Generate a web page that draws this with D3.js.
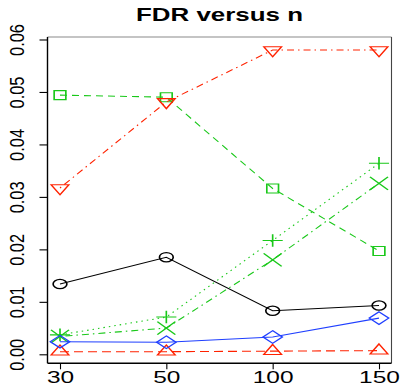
<!DOCTYPE html>
<html>
<head>
<meta charset="utf-8">
<script src="https://cdn.jsdelivr.net/npm/d3@7"></script>
<style>
  body { margin: 0; background: #fff; }
  svg { display: block; font-family: "Liberation Sans", Arial, Helvetica, sans-serif; }
</style>
</head>
<body>
<svg id="chart" width="401" height="386"></svg>
<script>
// sample sizes (categorical x axis)
var nLabels = ["30", "50", "100", "150"];
var yTicks = [0, 0.01, 0.02, 0.03, 0.04, 0.05, 0.06];

// FDR per method
var fdrCircle = [0.0134, 0.0185, 0.0083, 0.0093];
var fdrDiamond = [0.0024, 0.0023, 0.0033, 0.0069];
var fdrTriUp = [0.0005, 0.0005, 0.0006, 0.0007];
var fdrTriDown = [0.0317, 0.0481, 0.0580, 0.0580];
var fdrSquare = [0.0494, 0.0490, 0.0316, 0.0197];
var fdrPlus = [0.0037, 0.0071, 0.0217, 0.0364];
var fdrCross = [0.0034, 0.0050, 0.0180, 0.0326];

var series = [
  { values: fdrSquare, color: "#19c819", dash: "7,5", shape: "square" },
  { values: fdrPlus, color: "#19c819", dash: "1.5,4", shape: "plus" },
  { values: fdrCross, color: "#19c819", dash: "1.5,4,7,4", shape: "cross" },
  { values: fdrTriDown, color: "#ff2200", dash: "1.5,4,7,4", shape: "triDown" },
  { values: fdrTriUp, color: "#ff2200", dash: "9,5", shape: "triUp" },
  { values: fdrCircle, color: "#000000", dash: null, shape: "circle" },
  { values: fdrDiamond, color: "#1f3fff", dash: null, shape: "diamond" }
];

// the original picture is stretched sideways, so glyphs and markers are too
var stretch = 1.5;

var box = { left: 47.5, right: 391.5, top: 37, bottom: 363.3 };

var svg = d3.select("#chart");

let xScale = d3.scalePoint()
  .domain(nLabels)
  .range([60, 379]);

let yScale = d3.scaleLinear()
  .domain([-0.001715, 0.060476])
  .range([box.bottom, box.top]);

// marker outlines in unstretched units
var shapes = {
  circle: d3.path(),
  square: "M-3.9,-4.5H3.9V4.5H-3.9Z",
  diamond: "M0,-6.3L6.5,0L0,6.3L-6.5,0Z",
  plus: "M-6.7,0H6.7M0,-6.3V6.3",
  cross: "M-6,-6.5L6,6.5M-6,6.5L6,-6.5",
  triUp: "M0,-6.7L5.9,3.3L-5.9,3.3Z",
  triDown: "M0,6.7L5.9,-3.3L-5.9,-3.3Z"
};
shapes.circle.arc(0, 0, 4.6, 0, 2 * Math.PI);
shapes.circle = shapes.circle.toString();

let plot = svg.append("g").attr("id", "plot");

// lines
let line = d3.line()
  .x((d, i) => xScale(nLabels[i]))
  .y((d) => yScale(d));

for (let s of series) {
  plot.append("path")
    .attr("d", line(s.values))
    .attr("fill", "none")
    .attr("stroke", s.color)
    .attr("stroke-width", 1.1)
    .attr("stroke-dasharray", s.dash);

  plot.selectAll(null)
    .data(s.values)
    .enter().append("path")
    .attr("d", shapes[s.shape])
    .attr("transform", (d, i) => "translate(" + xScale(nLabels[i]) + "," + yScale(d) + ") scale(" + stretch + ",1)")
    .attr("fill", "none")
    .attr("stroke", s.color)
    .attr("stroke-width", 1.1);
}

// frame: top and right are lighter than the axes
svg.append("line")
  .attr("x1", box.left).attr("x2", box.right)
  .attr("y1", box.top).attr("y2", box.top)
  .attr("stroke", "#8a8a8a").attr("stroke-width", 1.2);
svg.append("line")
  .attr("x1", box.right).attr("x2", box.right)
  .attr("y1", box.top).attr("y2", box.bottom)
  .attr("stroke", "#444").attr("stroke-width", 1.1);
svg.append("line")
  .attr("x1", box.left).attr("x2", box.left)
  .attr("y1", box.top).attr("y2", box.bottom)
  .attr("stroke", "#000").attr("stroke-width", 1.4);
svg.append("line")
  .attr("x1", box.left).attr("x2", box.right)
  .attr("y1", box.bottom).attr("y2", box.bottom)
  .attr("stroke", "#000").attr("stroke-width", 1.4);

// Y-axis
let yAxis = d3.axisLeft(yScale)
  .tickValues(yTicks)
  .tickFormat(d3.format(".2f"))
  .tickSize(8)
  .tickSizeOuter(0);

let yGroup = svg.append("g")
  .attr("id", "y-axis")
  .attr("transform", "translate(" + box.left + ",0)")
  .call(yAxis);
yGroup.select(".domain").remove();
yGroup.selectAll(".tick line").attr("stroke", "#000").attr("stroke-width", 1.1);
yGroup.selectAll(".tick text")
  .attr("x", 0).attr("y", 0).attr("dy", null)
  .attr("text-anchor", "middle")
  .attr("transform", "translate(-24,0) scale(1.25,1) rotate(-90)")
  .style("font-size", "16.4px")
  .style("fill", "#000");

// X-axis
let xAxis = d3.axisBottom(xScale)
  .tickSize(6)
  .tickSizeOuter(0);

let xGroup = svg.append("g")
  .attr("id", "x-axis")
  .attr("transform", "translate(0," + box.bottom + ")")
  .call(xAxis);
xGroup.select(".domain").remove();
xGroup.selectAll(".tick line").attr("stroke", "#000").attr("stroke-width", 1.1);
xGroup.selectAll(".tick text")
  .attr("y", 20.2).attr("dy", null)
  .attr("transform", "scale(" + stretch + ",1)")
  .style("font-size", "16.3px")
  .style("fill", "#000");

// Title
svg.append("text")
  .text("FDR versus n")
  .attr("text-anchor", "middle")
  .attr("transform", "translate(" + (box.left + box.right) / 2 + ",21) scale(1.44,1)")
  .style("font-size", "18px")
  .style("font-weight", "bold")
  .style("fill", "#000");
</script>
</body>
</html>
